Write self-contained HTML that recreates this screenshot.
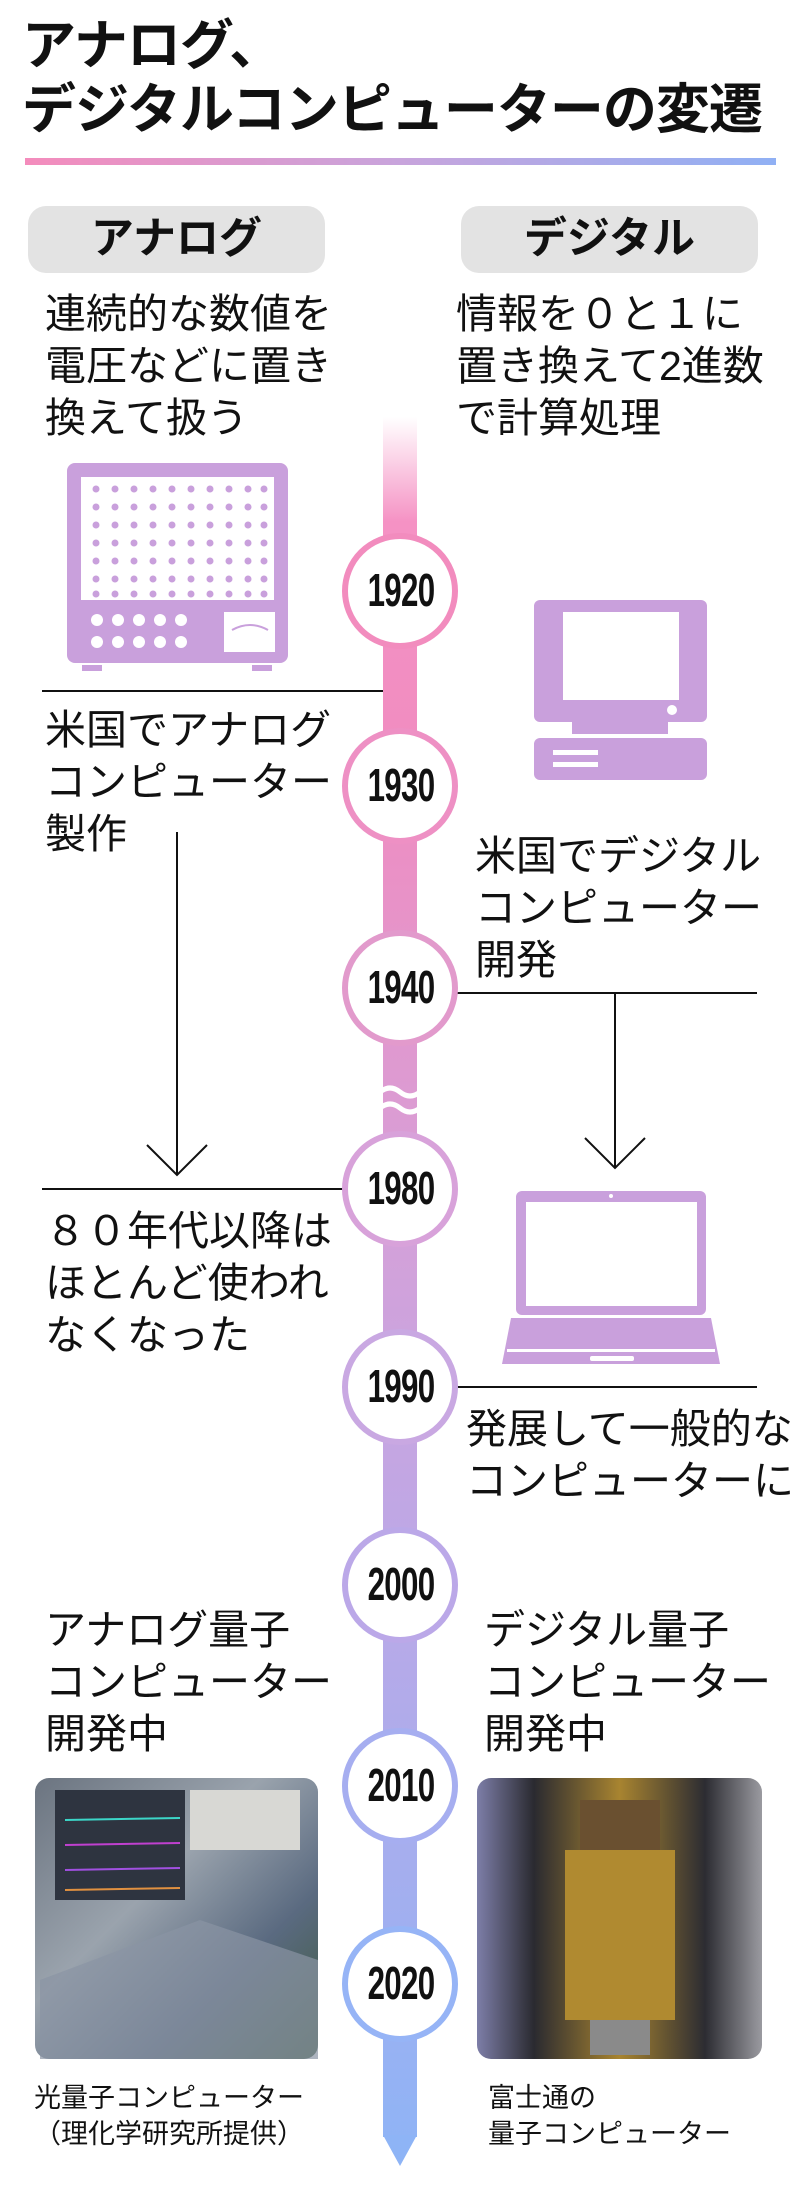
<!DOCTYPE html>
<html><head><meta charset="utf-8">
<style>
html,body{margin:0;padding:0;background:#fff;}
body{width:800px;height:2185px;position:relative;overflow:hidden;font-family:"Liberation Sans","Noto Sans CJK JP",sans-serif;color:#111;}
.t{position:absolute;white-space:nowrap;}
.title{font-weight:bold;font-size:54px;line-height:64px;left:22px;top:14px;letter-spacing:-1px;}
.hdr{position:absolute;background:#e3e3e3;border-radius:18px;height:67px;width:297px;top:206px;font-weight:bold;font-size:43px;line-height:67px;text-align:center;}
.d{font-size:41px;line-height:52px;}
.cap{font-size:27px;line-height:36px;}
.yr{position:absolute;left:333px;width:136px;text-align:center;font-weight:bold;font-size:46px;transform:scaleX(0.68);letter-spacing:-1px;}
</style></head><body>
<div class="t title">アナログ、<br>デジタルコンピューターの変遷</div>

<svg width="800" height="2185" style="position:absolute;left:0;top:0">
<defs>
<linearGradient id="hg" x1="0" x2="1" y1="0" y2="0"><stop offset="0" stop-color="#f48cbc"/><stop offset="0.5" stop-color="#c8a4dc"/><stop offset="1" stop-color="#90b0f4"/></linearGradient>
<linearGradient id="tl" x1="0" x2="0" y1="417" y2="2165" gradientUnits="userSpaceOnUse">
<stop offset="0" stop-color="#ffffff"/><stop offset="0.06" stop-color="#f592c4"/><stop offset="0.2" stop-color="#f08cc0"/><stop offset="0.45" stop-color="#d6a0d8"/><stop offset="0.65" stop-color="#bda8e6"/><stop offset="1" stop-color="#8eb4f6"/></linearGradient>
<linearGradient id="p1" x1="0" x2="1" y1="0" y2="1"><stop offset="0" stop-color="#6b7480"/><stop offset="0.4" stop-color="#9aa3ad"/><stop offset="0.7" stop-color="#5a6a80"/><stop offset="1" stop-color="#3d5a3a"/></linearGradient>
<linearGradient id="p2" x1="0" x2="1" y1="0" y2="0"><stop offset="0" stop-color="#7d7ea8"/><stop offset="0.2" stop-color="#2a2a30"/><stop offset="0.5" stop-color="#a88430"/><stop offset="0.8" stop-color="#2c2c32"/><stop offset="1" stop-color="#9a9aa0"/></linearGradient>
<g id="r" fill="#c9a0dc"><circle cx="96" cy="0" r="3.5"/><circle cx="115" cy="0" r="3.5"/><circle cx="134" cy="0" r="3.5"/><circle cx="153" cy="0" r="3.5"/><circle cx="172" cy="0" r="3.5"/><circle cx="191" cy="0" r="3.5"/><circle cx="210" cy="0" r="3.5"/><circle cx="229" cy="0" r="3.5"/><circle cx="248" cy="0" r="3.5"/><circle cx="264" cy="0" r="3.5"/></g>
</defs>
<rect x="25" y="158" width="751" height="7" fill="url(#hg)"/>

<rect x="383" y="417" width="34" height="1720" fill="url(#tl)"/>
<polygon points="383,2135 417,2135 400,2166" fill="#8eb4f6"/>
<path d="M380 1092 q10 -8 20 0 t20 0" stroke="#fff" stroke-width="5" fill="none"/>
<path d="M380 1108 q10 -8 20 0 t20 0" stroke="#fff" stroke-width="5" fill="none"/>

<g stroke="#111" stroke-width="2" fill="none">
<line x1="42" y1="691" x2="383" y2="691"/>
<line x1="177" y1="832" x2="177" y2="1175"/>
<polyline points="147,1145 177,1175 207,1145"/>
<line x1="42" y1="1189" x2="345" y2="1189"/>
<line x1="455" y1="993" x2="757" y2="993"/>
<line x1="615" y1="993" x2="615" y2="1168"/>
<polyline points="585,1138 615,1168 645,1138"/>
<line x1="455" y1="1387" x2="757" y2="1387"/>
</g>

<g fill="#fff" stroke-width="6">
<circle cx="400" cy="591" r="55" stroke="#f28cbe"/>
<circle cx="400" cy="786" r="55" stroke="#ee90c4"/>
<circle cx="400" cy="988" r="55" stroke="#e29acc"/>
<circle cx="400" cy="1189" r="55" stroke="#d8a2da"/>
<circle cx="400" cy="1387" r="55" stroke="#c9a8e2"/>
<circle cx="400" cy="1585" r="55" stroke="#bba8e8"/>
<circle cx="400" cy="1786" r="55" stroke="#a6aef0"/>
<circle cx="400" cy="1984" r="55" stroke="#96b4f6"/>
</g>

<g fill="#c9a0dc">
<rect x="67" y="463" width="221" height="200" rx="8"/>
<rect x="82" y="665" width="20" height="6"/><rect x="252" y="665" width="20" height="6"/>
</g>
<rect x="81" y="477" width="193" height="123" fill="#fff"/>
<use href="#r" y="489"/><use href="#r" y="507"/><use href="#r" y="525"/><use href="#r" y="543"/><use href="#r" y="561"/><use href="#r" y="579"/><use href="#r" y="594"/>
<rect x="224" y="612" width="51" height="40" fill="#fff"/>
<path d="M232 630 q18 -10 36 0" stroke="#c9a0dc" stroke-width="2" fill="none"/>
<g fill="#fff">
<circle cx="97" cy="620" r="6"/><circle cx="118" cy="620" r="6"/><circle cx="139" cy="620" r="6"/><circle cx="160" cy="620" r="6"/><circle cx="181" cy="620" r="6"/>
<circle cx="97" cy="642" r="6"/><circle cx="118" cy="642" r="6"/><circle cx="139" cy="642" r="6"/><circle cx="160" cy="642" r="6"/><circle cx="181" cy="642" r="6"/>
</g>

<g fill="#c9a0dc">
<rect x="534" y="600" width="173" height="122" rx="6"/>
<rect x="572" y="722" width="96" height="12"/>
<rect x="534" y="738" width="173" height="42" rx="6"/>
</g>
<rect x="563" y="612" width="116" height="88" fill="#fff"/>
<rect x="553" y="750" width="45" height="5" fill="#fff"/><rect x="553" y="762" width="45" height="5" fill="#fff"/>
<circle cx="672" cy="710" r="5" fill="#fff"/>

<g fill="#c9a0dc">
<rect x="516" y="1191" width="190" height="124" rx="6"/>
<polygon points="511,1318 711,1318 720,1364 502,1364"/>
</g>
<rect x="526" y="1202" width="171" height="104" fill="#fff"/>
<circle cx="611" cy="1196" r="2" fill="#fff"/>
<rect x="507" y="1349" width="208" height="3" fill="#fff"/>
<rect x="590" y="1356" width="44" height="5" rx="2" fill="#fff"/>

<rect x="35" y="1778" width="283" height="281" rx="14" fill="url(#p1)"/>
<rect x="55" y="1790" width="130" height="110" fill="#2e3440"/>
<line x1="65" y1="1820" x2="180" y2="1818" stroke="#3cd6c8" stroke-width="2"/>
<line x1="65" y1="1845" x2="180" y2="1843" stroke="#c040d0" stroke-width="2"/>
<line x1="65" y1="1870" x2="180" y2="1868" stroke="#a050e0" stroke-width="2"/>
<line x1="65" y1="1890" x2="180" y2="1888" stroke="#e09040" stroke-width="2"/>
<rect x="190" y="1790" width="110" height="60" fill="#d8d8d4"/>
<polygon points="40,1980 200,1920 318,1960 318,2059 40,2059" fill="#8a94a4" opacity="0.7"/>
<rect x="477" y="1778" width="285" height="281" rx="14" fill="url(#p2)"/>
<rect x="565" y="1850" width="110" height="170" fill="#b08a30"/>
<rect x="580" y="1800" width="80" height="50" fill="#6a5030"/>
<rect x="590" y="2020" width="60" height="35" fill="#8a8a8a"/>
</svg>

<div class="hdr" style="left:28px">アナログ</div>
<div class="hdr" style="left:461px">デジタル</div>

<div class="t d" style="left:45px;top:288px">連続的な数値を<br>電圧などに置き<br>換えて扱う</div>
<div class="t d" style="left:456px;top:288px">情報を０と１に<br>置き換えて2進数<br>で計算処理</div>
<div class="t d" style="left:45px;top:704px">米国でアナログ<br>コンピューター<br>製作</div>
<div class="t d" style="left:475px;top:830px">米国でデジタル<br>コンピューター<br>開発</div>
<div class="t d" style="left:45px;top:1205px">８０年代以降は<br>ほとんど使われ<br>なくなった</div>
<div class="t d" style="left:466px;top:1403px">発展して一般的な<br>コンピューターに</div>
<div class="t d" style="left:45px;top:1604px">アナログ量子<br>コンピューター<br>開発中</div>
<div class="t d" style="left:484px;top:1604px">デジタル量子<br>コンピューター<br>開発中</div>
<div class="t cap" style="left:34px;top:2080px">光量子コンピューター<br>（理化学研究所提供）</div>
<div class="t cap" style="left:488px;top:2080px">富士通の<br>量子コンピューター</div>

<div class="yr" style="top:563px">1920</div>
<div class="yr" style="top:758px">1930</div>
<div class="yr" style="top:960px">1940</div>
<div class="yr" style="top:1161px">1980</div>
<div class="yr" style="top:1359px">1990</div>
<div class="yr" style="top:1557px">2000</div>
<div class="yr" style="top:1758px">2010</div>
<div class="yr" style="top:1956px">2020</div>
</body></html>
